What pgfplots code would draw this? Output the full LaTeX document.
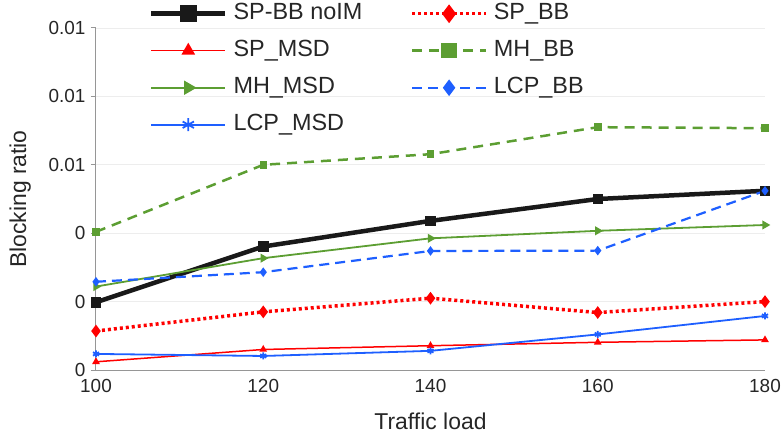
\documentclass[border=0pt]{standalone}
\usepackage{pgfplots}
\pgfplotsset{compat=1.18}
\usepackage{fontspec}
\setmainfont{Liberation Sans}
\definecolor{cgreen}{RGB}{92,158,50}
\definecolor{cblue}{RGB}{30,95,255}
\definecolor{cred}{RGB}{255,0,0}
\definecolor{cblack}{RGB}{25,25,25}
\definecolor{caxis}{RGB}{150,150,150}
\begin{document}
\begin{tikzpicture}
\begin{axis}[name=ax, scale only axis, width=669bp, height=342bp,
  xmin=100, xmax=180, ymin=0, ymax=0.01,
  xtick={100,120,140,160,180},
  ytick={0,0.002,0.004,0.006,0.008,0.01},
  yticklabels={0,0,0,0.01,0.01,0.01},
  scaled y ticks=false, scaled x ticks=false,
  /pgf/number format/assume math mode=true,
  /pgf/number format/1000 sep={},
  axis x line*=bottom, axis y line*=left,
  axis line style={draw=caxis, line width=1bp},
  x tick style={draw=none}, y tick style={draw=caxis, line width=1bp},
  tick align=outside, major tick length=5bp,
  ymajorgrids, grid style={draw=black!7, line width=0.8bp},
  tick label style={font=\fontsize{19}{19}\selectfont, text=black!85},
  yticklabel style={xshift=-2bp},
  xticklabel style={yshift=-1bp},
  xlabel={Traffic load}, ylabel={Blocking ratio},
  label style={font=\fontsize{23}{23}\selectfont, text=black!85},
  xlabel style={yshift=-13bp},
  ylabel style={yshift=11bp},
  legend columns=2,
  legend cell align=left,
  legend image code/.code={\draw[mark repeat=2,mark phase=2,#1, mark size=6.5bp] plot coordinates {(0bp,0bp) (37bp,0bp) (74bp,0bp)};},
  legend style={draw=none, fill=none, at={(0.079,1.073)}, anchor=north west,
    inner sep=0pt, font=\fontsize{23.5}{23.5}\selectfont, text=black!85,
    nodes={inner sep=0pt, text height=16bp, text depth=5bp},
    row sep=16bp,
    /tikz/every odd column/.append style={column sep=6bp},
    /tikz/every even column/.append style={column sep=48bp}},
]
\addplot[cblack, line width=4.5bp, mark=square*, mark size=3bp, mark options={solid}]
  coordinates {(100,0.00198) (120,0.00361) (140,0.00436) (160,0.00500) (180,0.00524)};
\addlegendentry{SP-BB noIM}
\addplot[cred, line width=3.5bp, dash pattern=on 3bp off 3bp, mark=diamond*, mark size=3.5bp, mark options={solid}]
  coordinates {(100,0.00114) (120,0.00170) (140,0.00210) (160,0.00168) (180,0.00200)};
\addlegendentry{SP\_BB}
\addplot[cred, line width=1.5bp, mark=triangle*, mark size=3bp, mark options={solid}]
  coordinates {(100,0.00024) (120,0.00060) (140,0.00071) (160,0.00081) (180,0.00088)};
\addlegendentry{SP\_MSD}
\addplot[cgreen, line width=2.5bp, dash pattern=on 10bp off 7bp, mark=square*, mark size=2.5bp, mark options={solid}]
  coordinates {(100,0.00404) (120,0.00600) (140,0.00631) (160,0.00710) (180,0.00707)};
\addlegendentry{MH\_BB}
\addplot[cgreen, line width=1.8bp, mark=triangle*, mark size=3.5bp, mark options={solid, rotate=-90}]
  coordinates {(100,0.00244) (120,0.00327) (140,0.00385) (160,0.00407) (180,0.00424)};
\addlegendentry{MH\_MSD}
\addplot[cblue, line width=2.2bp, dash pattern=on 10bp off 6bp, mark=diamond*, mark size=3bp, mark options={solid}]
  coordinates {(100,0.00258) (120,0.00286) (140,0.00348) (160,0.00349) (180,0.00524)};
\addlegendentry{LCP\_BB}
\addplot[cblue, line width=1.8bp, mark=asterisk, mark size=3.5bp, mark options={solid}]
  coordinates {(100,0.00047) (120,0.00041) (140,0.00056) (160,0.00104) (180,0.00158)};
\addlegendentry{LCP\_MSD}
\end{axis}
\pgfresetboundingbox
\path[use as bounding box] ([xshift=-96bp,yshift=-78bp]ax.south west) rectangle ([xshift=17bp,yshift=28bp]ax.north east);
\end{tikzpicture}
\end{document}
